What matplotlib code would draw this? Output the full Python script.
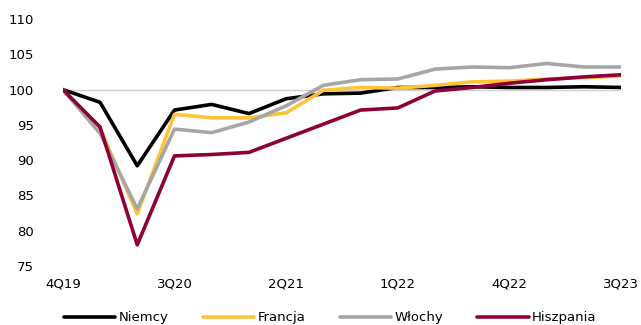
import numpy as np
import matplotlib
matplotlib.use('Agg')
import matplotlib.pyplot as plt

quarters = ['4Q19', '1Q20', '2Q20', '3Q20', '4Q20', '1Q21', '2Q21', '3Q21',
            '4Q21', '1Q22', '2Q22', '3Q22', '4Q22', '1Q23', '2Q23', '3Q23']

niemcy = [100, 98.2, 89.2, 97.1, 97.9, 96.6, 98.7, 99.4,
          99.5, 100.3, 100.3, 100.4, 100.3, 100.3, 100.4, 100.3]
francja = [100, 94.5, 82.4, 96.5, 96.0, 96.0, 96.7, 99.9,
           100.3, 100.2, 100.6, 101.1, 101.2, 101.5, 101.7, 101.9]
wlochy = [100, 93.8, 83.1, 94.4, 93.9, 95.4, 97.7, 100.6,
          101.4, 101.5, 102.9, 103.2, 103.1, 103.7, 103.2, 103.2]
hiszpania = [100, 94.7, 78.0, 90.6, 90.8, 91.1, 93.1, 95.1,
             97.1, 97.4, 99.8, 100.3, 100.9, 101.4, 101.8, 102.1]

x = np.arange(len(quarters))

plt.rcParams['font.family'] = ['DejaVu Sans']
fig = plt.figure(figsize=(6.41, 3.25), dpi=100)
ax = fig.add_axes([0.098, 0.1815, 0.871, 0.76])

ax.axhline(100, color='#d0d0d0', lw=1.0, zorder=1)
style = dict(lw=2.6, solid_joinstyle='round', solid_capstyle='round')
ax.plot(x, niemcy, color='black', label='Niemcy', zorder=3, **style)
ax.plot(x, francja, color='#FFC33A', label='Francja', zorder=3, **style)
ax.plot(x, wlochy, color='#A6A6A6', label='Włochy', zorder=3, **style)
ax.plot(x, hiszpania, color='#8E0038', label='Hiszpania', zorder=4, **style)

ax.set_xlim(0, 15)
ax.set_ylim(75, 110)
ax.set_yticks(range(75, 111, 5))
ax.set_xticks(x[::3])
ax.set_xticklabels(quarters[::3])
for s in ax.spines.values():
    s.set_visible(False)
ax.tick_params(axis='y', length=0, pad=21, labelsize=9.5)
ax.tick_params(axis='x', length=0, pad=8, labelsize=9.5)

fig.legend(loc='center', bbox_to_anchor=(0.515, 0.022), ncol=4, frameon=False,
           fontsize=9.5, handlelength=3.9, handletextpad=0.25, columnspacing=2.6)

fig.savefig('out.png', dpi=100)
